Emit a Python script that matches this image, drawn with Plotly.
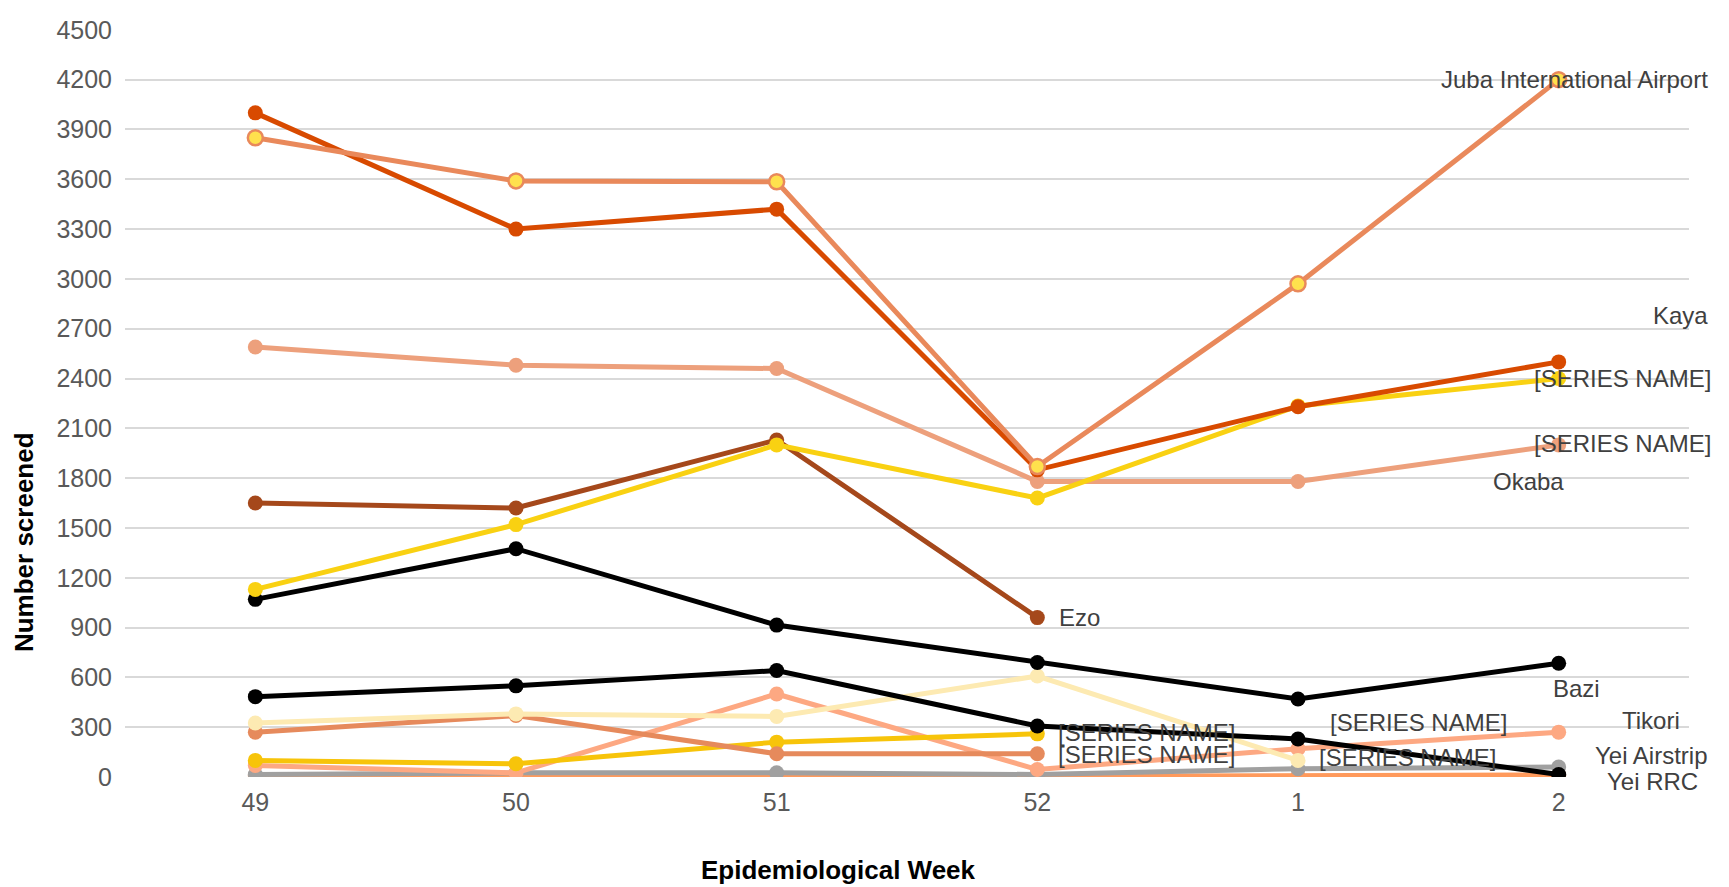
import plotly.graph_objects as go

weeks = ["49", "50", "51", "52", "1", "2"]
xpos = [0, 1, 2, 3, 4, 5]

juba = [3850, 3590, 3585, 1870, 2970, 4200]
kaya = [4000, 3300, 3420, 1850, 2230, 2500]
yellow_hi = [1130, 1520, 2000, 1680, 2235, 2400]
salmon_hi = [2590, 2480, 2460, 1780, 1780, 2000]
ezo = [1650, 1620, 2030, 960, None, None]
black_hi = [1070, 1375, 915, 690, 470, 685]
black_lo = [484, 549, 641, 307, 229, 15]
cream = [325, 380, 365, 608, 100, None]
orange_lo = [270, 370, 140, 140, None, None]
gold_lo = [100, 80, 210, 260, None, None]
pink = [70, 25, 500, 45, 170, 270]
grey = [15, 25, 25, 15, 50, 60]
orange_zero = [10, 5, 5, 5, 5, 12]

series = [
    (orange_zero, "#FF9A5C"),
    (grey, "#A0A0A0"),
    (pink, "#FDA882"),
    (gold_lo, "#F7C40A"),
    (orange_lo, "#E68A5C"),
    (cream, "#FDEAB2"),
    (black_lo, "#000000"),
    (black_hi, "#000000"),
    (ezo, "#A5481B"),
    (salmon_hi, "#EDA07C"),
    (yellow_hi, "#F9D112"),
    (kaya, "#D84A00"),
]

W, H = 1729, 887
ML, MR, MT, MB = 117, 48, 8, 118

fig = go.Figure()
for vals, col in series:
    fig.add_trace(go.Scatter(
        x=xpos, y=vals, mode="lines+markers",
        line=dict(color=col, width=5),
        marker=dict(color=col, size=15),
        showlegend=False, hoverinfo="skip"))

fig.add_trace(go.Scatter(
    x=xpos, y=juba, mode="lines+markers",
    line=dict(color="#E9895B", width=5),
    marker=dict(color="#FFE14D", size=15, line=dict(color="#E9895B", width=2.5)),
    showlegend=False, hoverinfo="skip"))

# data labels: (text, x index, y value, xanchor, xshift, yshift)
labels = [
    ("Juba International Airport", 5, 4200, "center", 16, 0),
    ("Kaya", 5, 2780, "left", 92, 0),
    ("[SERIES NAME]", 5, 2400, "left", -27, 0),
    ("[SERIES NAME]", 5, 2008, "left", -27, 0),
    ("Okaba", 5, 1780, "left", -68, 0),
    ("Ezo", 3, 961, "left", 20, 0),
    ("Bazi", 5, 536, "left", -8, 0),
    ("[SERIES NAME]", 3, 266, "left", 19, 0),
    ("[SERIES NAME]", 3, 133, "left", 19, 0),
    ("[SERIES NAME]", 4, 327, "left", 30, 0),
    ("[SERIES NAME]", 4, 118, "left", 19, 0),
    ("Tikori", 5, 340, "left", 61, 0),
    ("Yei Airstrip", 5, 131, "left", 34, 0),
    ("Yei RRC", 5, 0, "left", 46, -4),
]
for text, xi, yv, xa, xs, ys in labels:
    fig.add_annotation(x=xi, y=yv, text=text, showarrow=False,
                       xanchor=xa, yanchor="middle", xshift=xs, yshift=ys,
                       font=dict(family="Liberation Sans", size=24, color="#404040"))

pw = W - ML - MR
ph = H - MT - MB
# axis titles placed by pixel position
xt_x, xt_y = 830, 864
yt_x, yt_y = 16, 530
fig.add_annotation(xref="paper", yref="paper",
                   x=(xt_x - ML) / pw, y=(H - MB - xt_y) / ph,
                   text="<b>Epidemiological Week</b>", showarrow=False,
                   xanchor="center", yanchor="middle",
                   font=dict(family="Liberation Sans", size=26, color="#000000"))
fig.add_annotation(xref="paper", yref="paper",
                   x=(yt_x - ML) / pw, y=(H - MB - yt_y) / ph,
                   text="<b>Number screened</b>", showarrow=False, textangle=-90,
                   xanchor="center", yanchor="middle",
                   font=dict(family="Liberation Sans", size=26, color="#000000"))

fig.update_layout(
    width=W, height=H,
    margin=dict(l=ML, r=MR, t=MT, b=MB),
    plot_bgcolor="white", paper_bgcolor="white",
    font=dict(family="Liberation Sans", color="#595959"),
    xaxis=dict(
        tickmode="array", tickvals=xpos, ticktext=weeks,
        range=[-0.5, 5.5], showgrid=False, zeroline=False,
        showline=False, ticks="", ticklabelstandoff=8,
        tickfont=dict(size=25, color="#595959"),
    ),
    yaxis=dict(
        range=[0, 4505], tickmode="array",
        tickvals=[0, 300, 600, 900, 1200, 1500, 1800, 2100, 2400, 2700,
                  3000, 3300, 3600, 3900, 4200, 4500],
        showgrid=True, gridcolor="#D9D9D9", gridwidth=1.5,
        zeroline=False, showline=False, ticks="", ticklabelstandoff=12,
        ticklabeloverflow="allow",
        tickfont=dict(size=25, color="#595959"),
    ),
)

fig.write_html("out.html")
